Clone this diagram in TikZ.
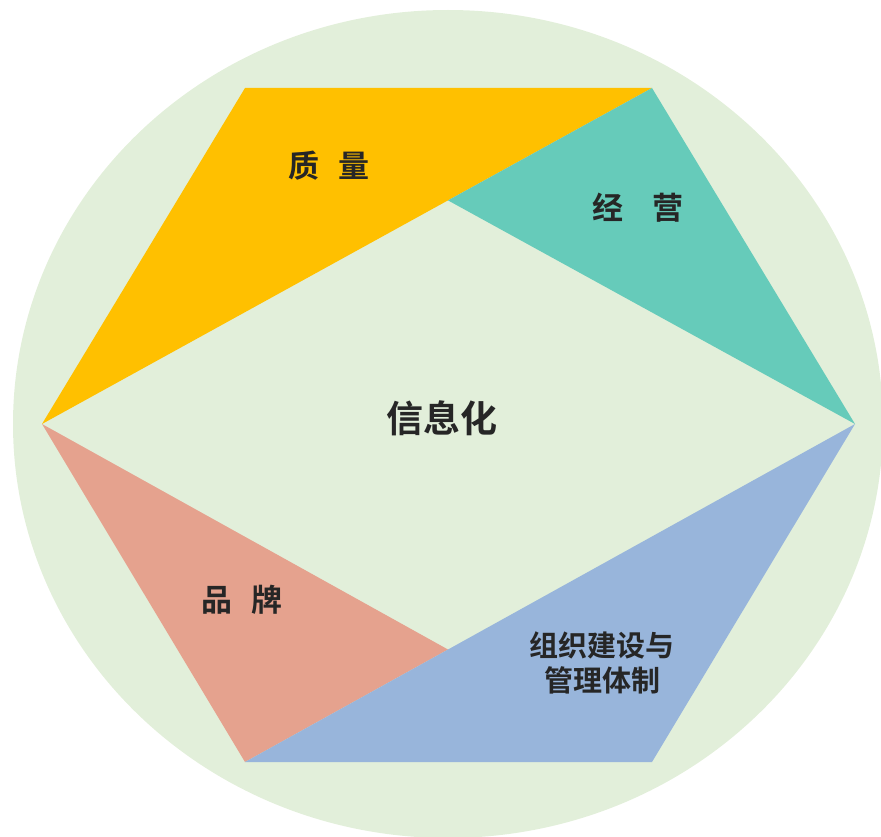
\documentclass[tikz,border=0pt]{standalone}
\usepackage{fontspec}
\newfontfamily\cjkbold{Noto Sans CJK SC Bold}
\definecolor{bggreen}{HTML}{E2EFDA}
\definecolor{qyellow}{HTML}{FFC000}
\definecolor{jteal}{HTML}{66CBBA}
\definecolor{psalmon}{HTML}{E5A28E}
\definecolor{zblue}{HTML}{98B5DB}
\definecolor{txtgray}{HTML}{262626}
\tikzset{
  part label/.style={
    text=txtgray,
    inner sep=0pt,
    align=center,
    font=\cjkbold\fontsize{31}{35}\selectfont
  },
  core label/.style={
    part label,
    font=\cjkbold\fontsize{37}{40}\selectfont
  },
  small label/.style={
    part label,
    font=\cjkbold\fontsize{29}{35}\selectfont
  },
}

\begin{document}
\begin{tikzpicture}[x=1pt,y=-1pt]
  \useasboundingbox (0,0) rectangle (881,837);
  \fill[bggreen] (448,424) ellipse [x radius=435,y radius=414];
  \coordinate (L) at (42,424);
  \coordinate (TL) at (245,88);
  \coordinate (TR) at (652,88);
  \coordinate (R) at (855,424);
  \coordinate (BR) at (652,762);
  \coordinate (BL) at (245,762);
  \coordinate (T) at (448,200.4);
  \coordinate (B) at (448,649.5);
  \fill[qyellow] (TL) -- (TR) -- (L) -- cycle;
  \fill[jteal] (TR) -- (R) -- (T) -- cycle;
  \fill[psalmon] (L) -- (B) -- (BL) -- cycle;
  \fill[zblue] (R) -- (BR) -- (BL) -- cycle;
  \node[part label] (zhiliang) at (329,166) {质\hspace{20pt}量};
  \node[part label] (jingying) at (638,208) {经\hspace{30pt}营};
  \node[core label] (xinxihua) at (442,418) {信息化};
  \node[part label] (pinpai) at (242,600) {品\hspace{20pt}牌};
  \node[small label] (zuzhi) at (602,663) {组织建设与\\管理体制};
\end{tikzpicture}
\end{document}
